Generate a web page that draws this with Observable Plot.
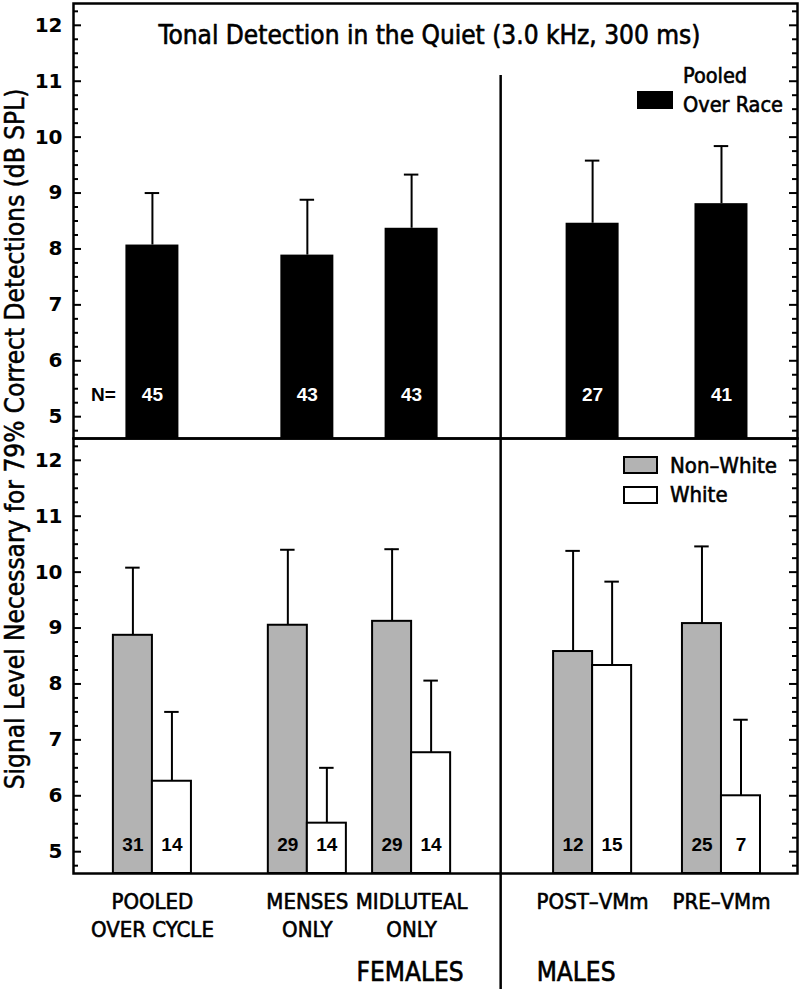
<!DOCTYPE html>
<html><head><meta charset="utf-8">
<script src="https://cdn.jsdelivr.net/npm/d3@7"></script>
<script src="https://cdn.jsdelivr.net/npm/@observablehq/plot@0.6"></script>
<style>
body{margin:0;background:#fff}
#chart{position:relative;width:800px;height:989px}
</style>
</head><body><div id="chart"></div>
<script>
// ---------- data ----------
const groups = ["POOLED\nOVER CYCLE", "MENSES\nONLY", "MIDLUTEAL\nONLY", "POST–VMm", "PRE–VMm"];
const groupPos = [10.9, 32.3, 46.7, 71.7, 89.5];      // slot positions on a 0–100 category axis
const dividerPos = 59.0;                               // females | males divider slot
const sexLabels = ["FEMALES", "MALES"];

const pooledMean  = [8.07, 7.89, 8.37, 8.46, 8.81];
const pooledUpper = [9.00, 8.88, 9.33, 9.58, 9.84];
const pooledN     = [45, 43, 43, 27, 41];

const nonWhiteMean  = [8.87, 9.05, 9.12, 8.58, 9.08];
const nonWhiteUpper = [10.08, 10.40, 10.41, 10.38, 10.46];
const nonWhiteN     = [31, 29, 29, 12, 25];

const whiteMean  = [6.26, 5.51, 6.77, 8.33, 6.00];
const whiteUpper = [7.50, 6.50, 8.06, 9.83, 7.36];
const whiteN     = [14, 14, 14, 15, 7];

const yTicks = [5, 6, 7, 8, 9, 10, 11, 12];
const title = "Tonal Detection in the Quiet (3.0 kHz, 300 ms)";
const yTitle = "Signal Level Necessary for 79% Correct Detections (dB SPL)";

// ---------- styling ----------
const COND = "'DejaVu Sans Condensed', 'DejaVu Sans', sans-serif";
const BOLD = "'Liberation Sans', Arial, sans-serif";
const yDomain = [4.61, 12.39];
const TOP_HALF = 3.66, BOT_W = 5.39, CAP = 1.0;
const W = 800, H = 989, ML = 73, MR = 3, MT = 2, MB = 116;
const innerW = W - ML - MR;
const yMinor = d3.range(4.75, 12.3, 0.25).filter(v => Math.abs(v - Math.round(v)) > 1e-6);
const heavy = {stroke: "black", strokeWidth: 0.6};

const topRows = groups.map((g, i) => ({panel: "top", x: groupPos[i], mean: pooledMean[i], upper: pooledUpper[i], n: pooledN[i]}));
const nwRows = groups.map((g, i) => ({panel: "bottom", x: groupPos[i], x1: groupPos[i] - BOT_W, x2: groupPos[i], mean: nonWhiteMean[i], upper: nonWhiteUpper[i], n: nonWhiteN[i]}));
const wRows = groups.map((g, i) => ({panel: "bottom", x: groupPos[i], x1: groupPos[i], x2: groupPos[i] + BOT_W, mean: whiteMean[i], upper: whiteUpper[i], n: whiteN[i]}));
const labelRows = groups.map((g, i) => ({panel: "bottom", x: groupPos[i], label: g}));

const mid = d => (d.x1 + d.x2) / 2;

const plot = Plot.plot({
  width: W, height: H,
  marginLeft: ML, marginRight: MR, marginTop: MT, marginBottom: MB,
  style: {background: "white", fontFamily: COND, overflow: "visible"},
  x: {domain: [0, 100], axis: null},
  y: {domain: yDomain, axis: null},
  fy: {domain: ["top", "bottom"], axis: null, padding: 0},
  marks: [
    // top panel bars
    Plot.rect(topRows, {fy: "panel", x1: d => d.x - TOP_HALF, x2: d => d.x + TOP_HALF, y1: () => yDomain[0], y2: "mean", fill: "black"}),
    Plot.ruleX(topRows, {fy: "panel", x: "x", y1: "mean", y2: "upper", strokeWidth: 2}),
    Plot.ruleY(topRows, {fy: "panel", y: "upper", x1: d => d.x - CAP, x2: d => d.x + CAP, strokeWidth: 2}),
    Plot.text(topRows, {fy: "panel", x: "x", text: d => String(d.n), frameAnchor: "bottom", lineAnchor: "bottom", dy: -38, fill: "white", fontWeight: "bold", fontSize: 19, fontFamily: BOLD}),
    Plot.text([topRows[0]], {fy: "panel", x: "x", text: () => "N=", frameAnchor: "bottom", lineAnchor: "bottom", dy: -38, dx: -49, fill: "black", fontWeight: "bold", fontSize: 19, fontFamily: BOLD}),

    // bottom panel bars
    Plot.rect(nwRows, {fy: "panel", x1: "x1", x2: "x2", y1: () => yDomain[0], y2: "mean", fill: "#b3b3b3", stroke: "black", strokeWidth: 2}),
    Plot.rect(wRows, {fy: "panel", x1: "x1", x2: "x2", y1: () => yDomain[0], y2: "mean", fill: "white", stroke: "black", strokeWidth: 2}),
    Plot.ruleX([...nwRows, ...wRows], {fy: "panel", x: mid, y1: "mean", y2: "upper", strokeWidth: 2}),
    Plot.ruleY([...nwRows, ...wRows], {fy: "panel", y: "upper", x1: d => mid(d) - CAP, x2: d => mid(d) + CAP, strokeWidth: 2}),
    Plot.text([...nwRows, ...wRows], {fy: "panel", x: mid, text: d => String(d.n), frameAnchor: "bottom", lineAnchor: "bottom", dy: -23, fill: "black", fontWeight: "bold", fontSize: 19, fontFamily: BOLD}),

    // title in top panel
    Plot.text([{panel: "top"}], {fy: "panel", frameAnchor: "top", text: () => title, lineAnchor: "bottom", dy: 40, dx: -6, fontSize: 26, fontFamily: COND, fill: "black", ...heavy}),

    // divider
    Plot.ruleX([{panel: "top", x: dividerPos}], {fy: "panel", x: "x", insetTop: 72, strokeWidth: 2.5}),
    Plot.ruleX([{panel: "bottom", x: dividerPos}], {fy: "panel", x: "x", insetBottom: -(MB), strokeWidth: 2.5}),

    // y ticks (inward) left & right
    Plot.tickY(yTicks, {y: d => d, insetRight: innerW - 8, strokeWidth: 2}),
    Plot.tickY(yMinor, {y: d => d, insetRight: innerW - 5, strokeWidth: 2}),
    Plot.tickY(yTicks, {y: d => d, insetLeft: innerW - 8, strokeWidth: 2}),
    Plot.tickY(yMinor, {y: d => d, insetLeft: innerW - 5, strokeWidth: 2}),
    Plot.text(yTicks, {y: d => d, text: d => String(d), frameAnchor: "left", textAnchor: "end", dx: -11, fontWeight: "bold", fontSize: 20, fontFamily: "'DejaVu Sans', sans-serif", fill: "black"}),

    // x category labels
    Plot.text(labelRows, {fy: "panel", x: "x", text: "label", frameAnchor: "bottom", lineAnchor: "top", dy: 16, lineHeight: 1.27, fontSize: 22, fontFamily: COND, fill: "black", ...heavy}),
    Plot.text([{panel: "bottom", x: dividerPos, t: sexLabels[0]}], {fy: "panel", x: "x", text: "t", frameAnchor: "bottom", lineAnchor: "bottom", textAnchor: "end", dx: -37, dy: 107, fontSize: 26, fontFamily: COND, fill: "black", ...heavy}),
    Plot.text([{panel: "bottom", x: dividerPos, t: sexLabels[1]}], {fy: "panel", x: "x", text: "t", frameAnchor: "bottom", lineAnchor: "bottom", textAnchor: "start", dx: 36, dy: 107, fontSize: 26, fontFamily: COND, fill: "black", ...heavy}),

    Plot.frame({strokeWidth: 2.5})
  ]
});

document.getElementById("chart").appendChild(plot);

// ---------- y title and legends ----------
const svg = d3.select(plot);
svg.append("text")
  .attr("transform", "translate(24,439) rotate(-90)")
  .attr("text-anchor", "middle")
  .attr("font-family", COND).attr("font-size", 26).attr("fill", "black")
  .attr("stroke", "black").attr("stroke-width", 0.5)
  .text(yTitle);

const lg1 = svg.append("g").attr("font-family", COND).attr("font-size", 21.5).attr("fill", "black").attr("text-anchor", "start");
lg1.append("rect").attr("x", 637).attr("y", 91).attr("width", 36).attr("height", 18).attr("fill", "black");
lg1.append("text").attr("x", 683).attr("y", 83).attr("text-anchor", "start").attr("stroke", "black").attr("stroke-width", 0.6).text("Pooled");
lg1.append("text").attr("x", 683).attr("y", 112).attr("text-anchor", "start").attr("stroke", "black").attr("stroke-width", 0.6).text("Over Race");

const lg2 = svg.append("g").attr("font-family", COND).attr("font-size", 22).attr("fill", "black").attr("text-anchor", "start");
lg2.append("rect").attr("x", 624).attr("y", 457).attr("width", 33).attr("height", 16).attr("fill", "#b3b3b3").attr("stroke", "black").attr("stroke-width", 2);
lg2.append("rect").attr("x", 624).attr("y", 487).attr("width", 33).attr("height", 16).attr("fill", "white").attr("stroke", "black").attr("stroke-width", 2);
lg2.append("text").attr("x", 670).attr("y", 473).attr("text-anchor", "start").attr("stroke", "black").attr("stroke-width", 0.6).text("Non–White");
lg2.append("text").attr("x", 670).attr("y", 502).attr("text-anchor", "start").attr("stroke", "black").attr("stroke-width", 0.6).text("White");
</script>
</body></html>
